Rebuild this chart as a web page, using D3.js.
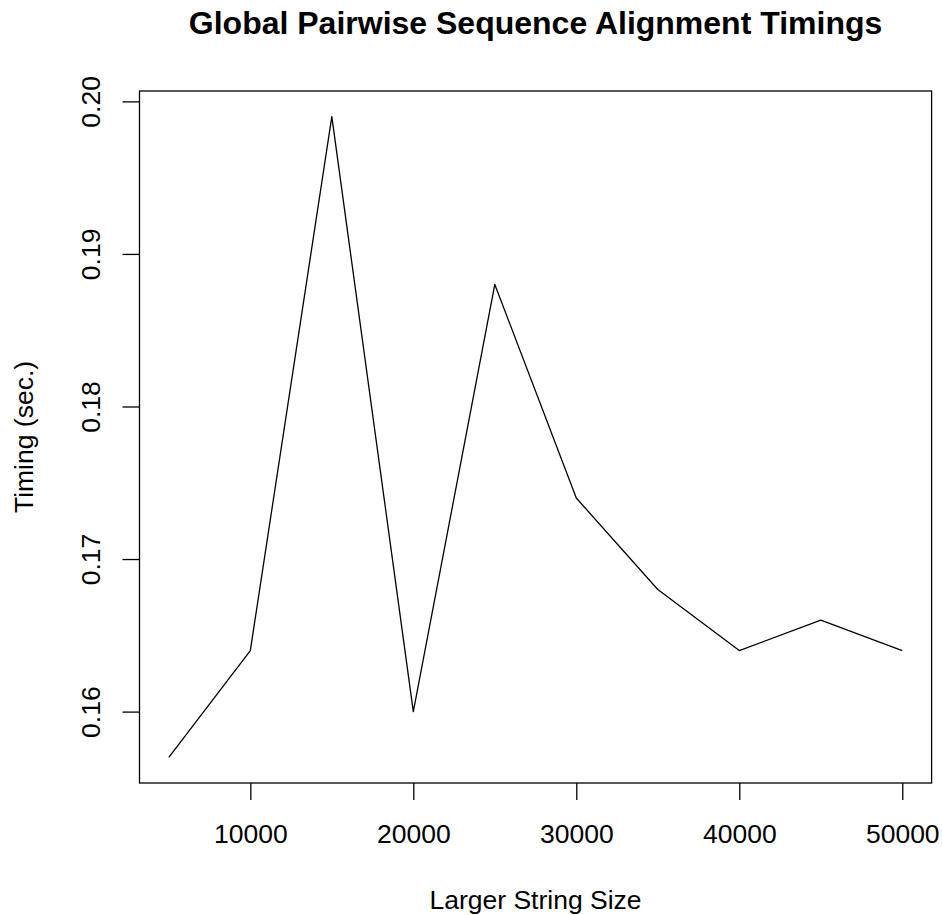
<!DOCTYPE html>
<html>
<head>
<meta charset="utf-8">
<script src="https://cdn.jsdelivr.net/npm/d3@7"></script>
<style>
  body { margin: 0; background: #fff; }
  text { font-family: "Liberation Sans", Arial, Helvetica, sans-serif; fill: #000; }
</style>
</head>
<body>
<div id="chart"></div>
<script>
// data
var stringSizes = [5000, 10000, 15000, 20000, 25000, 30000, 35000, 40000, 45000, 50000];
var timings = [0.157, 0.164, 0.199, 0.160, 0.188, 0.174, 0.168, 0.164, 0.166, 0.164];
var xTicks = [10000, 20000, 30000, 40000, 50000];
var yTicks = [0.16, 0.17, 0.18, 0.19, 0.20];

var svgWidth = 942;
var svgHeight = 915;

var margin = { top: 91, right: 10.4, bottom: 132, left: 139.5 };
var width = svgWidth - margin.left - margin.right;
var height = svgHeight - margin.top - margin.bottom;

var svg = d3.select("#chart")
  .append("svg")
  .attr("width", svgWidth)
  .attr("height", svgHeight);

var chartGroup = svg.append("g")
  .attr("transform", `translate(${margin.left}, ${margin.top})`);

// R style: pad the data range by 4% on each side
function padded(ext) {
  var d = (ext[1] - ext[0]) * 0.04;
  return [ext[0] - d, ext[1] + d];
}

var xScale = d3.scaleLinear()
  .domain(padded(d3.extent(stringSizes)))
  .range([0, width]);

var yScale = d3.scaleLinear()
  .domain(padded(d3.extent(timings)))
  .range([height, 0]);

// axes
var xAxis = d3.axisBottom(xScale).tickValues(xTicks).tickSize(17).tickFormat(d3.format("d"));
var yAxis = d3.axisLeft(yScale).tickValues(yTicks).tickSize(17).tickFormat(d3.format(".2f"));

var xg = chartGroup.append("g")
  .attr("transform", `translate(0, ${height})`)
  .call(xAxis);
xg.select(".domain").remove();
xg.selectAll("line").attr("stroke", "#000").attr("stroke-width", 1.3);
xg.selectAll("text")
  .attr("y", 60)
  .attr("dy", null)
  .attr("font-size", "26.5px")
  .attr("font-family", null);

var yg = chartGroup.append("g").call(yAxis);
yg.select(".domain").remove();
yg.selectAll("line").attr("stroke", "#000").attr("stroke-width", 1.3);
yg.selectAll("text")
  .attr("x", 0)
  .attr("y", -39.5)
  .attr("dy", null)
  .attr("transform", "rotate(-90)")
  .attr("text-anchor", "middle")
  .attr("font-size", "26.5px")
  .attr("font-family", null);

// the line
var line = d3.line()
  .x((d, i) => xScale(stringSizes[i]))
  .y(d => yScale(d));

chartGroup.append("path")
  .datum(timings)
  .attr("d", line)
  .attr("fill", "none")
  .attr("stroke", "#000")
  .attr("stroke-width", 1.3)
  .attr("stroke-linejoin", "round");

// plot box
chartGroup.append("rect")
  .attr("x", 0)
  .attr("y", 0)
  .attr("width", width)
  .attr("height", height)
  .attr("fill", "none")
  .attr("stroke", "#000")
  .attr("stroke-width", 1.3);

// title and axis labels
svg.append("text")
  .attr("x", margin.left + width / 2)
  .attr("y", 34)
  .attr("text-anchor", "middle")
  .attr("font-size", "32px")
  .attr("font-weight", "bold")
  .text("Global Pairwise Sequence Alignment Timings");

svg.append("text")
  .attr("x", margin.left + width / 2)
  .attr("y", 908.5)
  .attr("text-anchor", "middle")
  .attr("font-size", "26.5px")
  .text("Larger String Size");

svg.append("g")
  .attr("transform", `translate(33, ${margin.top + height / 2})`)
  .append("text")
  .attr("transform", "rotate(-90)")
  .attr("text-anchor", "middle")
  .attr("font-size", "26.5px")
  .text("Timing (sec.)");
</script>
</body>
</html>
